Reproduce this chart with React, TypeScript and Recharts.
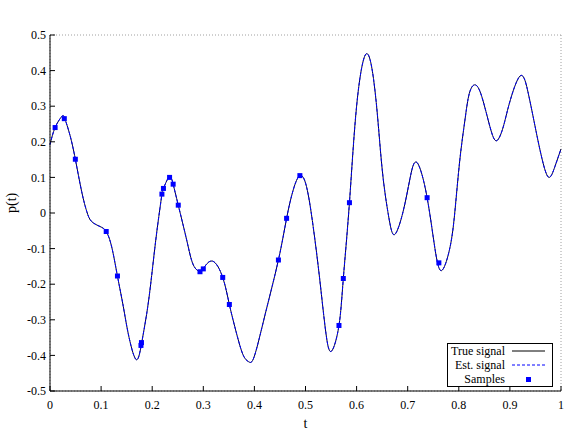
import React from 'react';
import { ComposedChart, Line, Scatter, XAxis, YAxis, CartesianGrid } from 'recharts';

const curveT = [0, 0.01, 0.023, 0.029, 0.039, 0.0496, 0.062, 0.072, 0.0815, 0.098, 0.11, 0.1207, 0.132, 0.1435, 0.153, 0.168, 0.179, 0.189, 0.197, 0.205, 0.212, 0.219, 0.222, 0.233, 0.241, 0.251, 0.2675, 0.2805, 0.2935, 0.3, 0.3177, 0.338, 0.351, 0.365, 0.378, 0.389, 0.4, 0.421, 0.447, 0.463, 0.476, 0.489, 0.502, 0.515, 0.528, 0.54, 0.551, 0.5655, 0.574, 0.586, 0.6, 0.618, 0.633, 0.643, 0.652, 0.664, 0.675, 0.691, 0.7045, 0.718, 0.738, 0.755, 0.768, 0.783, 0.7926, 0.802, 0.812, 0.8206, 0.832, 0.845, 0.861, 0.874, 0.887, 0.899, 0.92, 0.936, 0.952, 0.965, 0.9765, 0.988, 1];
const trueP = [0.192, 0.24, 0.271, 0.265, 0.219, 0.151, 0.06, 0.004, -0.024, -0.038, -0.052, -0.095, -0.177, -0.263, -0.338, -0.411, -0.368, -0.285, -0.2, -0.1, -0.02, 0.053, 0.069, 0.101, 0.081, 0.022, -0.076, -0.146, -0.165, -0.157, -0.135, -0.181, -0.257, -0.338, -0.399, -0.418, -0.402, -0.285, -0.132, -0.015, 0.065, 0.105, 0.074, -0.038, -0.188, -0.338, -0.388, -0.316, -0.184, 0.029, 0.3, 0.446, 0.378, 0.238, 0.097, -0.02, -0.06, 0.004, 0.097, 0.142, 0.043, -0.115, -0.16, -0.095, 0.008, 0.149, 0.261, 0.336, 0.36, 0.327, 0.242, 0.203, 0.242, 0.308, 0.385, 0.336, 0.224, 0.14, 0.1, 0.13, 0.18];
const estP = [0.192, 0.24, 0.271, 0.265, 0.219, 0.151, 0.06, 0.004, -0.024, -0.038, -0.052, -0.095, -0.177, -0.263, -0.338, -0.411, -0.368, -0.285, -0.2, -0.1, -0.02, 0.053, 0.069, 0.101, 0.081, 0.022, -0.076, -0.146, -0.165, -0.157, -0.135, -0.181, -0.257, -0.338, -0.399, -0.418, -0.402, -0.285, -0.132, -0.015, 0.065, 0.105, 0.074, -0.038, -0.188, -0.338, -0.388, -0.316, -0.184, 0.029, 0.3, 0.446, 0.378, 0.238, 0.097, -0.02, -0.06, 0.004, 0.097, 0.142, 0.043, -0.115, -0.16, -0.095, 0.008, 0.149, 0.261, 0.336, 0.36, 0.327, 0.242, 0.203, 0.242, 0.308, 0.385, 0.336, 0.224, 0.14, 0.1, 0.13, 0.18];

const sampleT = [0.01, 0.028, 0.0496, 0.11, 0.132, 0.178, 0.179, 0.219, 0.222, 0.234, 0.241, 0.251, 0.2935, 0.3, 0.338, 0.351, 0.447, 0.463, 0.489, 0.5655, 0.574, 0.586, 0.738, 0.761];
const sampleP = [0.24, 0.265, 0.151, -0.052, -0.177, -0.372, -0.364, 0.053, 0.069, 0.1, 0.081, 0.022, -0.165, -0.157, -0.181, -0.257, -0.132, -0.015, 0.105, -0.316, -0.184, 0.029, 0.043, -0.14];

const xTicks = [0, 0.1, 0.2, 0.3, 0.4, 0.5, 0.6, 0.7, 0.8, 0.9, 1];
const yTicks = [-0.5, -0.4, -0.3, -0.2, -0.1, 0, 0.1, 0.2, 0.3, 0.4, 0.5];
const legendLabels = ['True signal', 'Est. signal', 'Samples'];

const trueData = curveT.map((t, i) => ({ t, p: trueP[i] }));
const estData = curveT.map((t, i) => ({ t, p: estP[i] }));
const sampleData = sampleT.map((t, i) => ({ t, p: sampleP[i] }));

const FONT = '"Liberation Serif", "DejaVu Serif", serif';

const Square = (props: any) => {
  const { cx, cy } = props;
  if (cx == null || cy == null) return null;
  return <rect x={cx - 2.5} y={cy - 2.5} width={5} height={5} fill="#0000ff" />;
};

const LegendBox = () => (
  <svg width={107} height={45} style={{ display: 'block' }}>
    <rect x={0.5} y={0.5} width={105} height={43} fill="#fff" stroke="#000" strokeWidth={1} />
    <text x={58} y={12} textAnchor="end" fontFamily={FONT} fontSize={12} fill="#000">{legendLabels[0]}</text>
    <line x1={65} x2={98} y1={8} y2={8} stroke="#000" strokeWidth={1} />
    <text x={58} y={26} textAnchor="end" fontFamily={FONT} fontSize={12} fill="#000">{legendLabels[1]}</text>
    <line x1={65} x2={98} y1={22} y2={22} stroke="#0000ff" strokeWidth={1} strokeDasharray="3 2" />
    <text x={58} y={40} textAnchor="end" fontFamily={FONT} fontSize={12} fill="#000">{legendLabels[2]}</text>
    <rect x={79} y={34} width={5} height={5} fill="#0000ff" />
  </svg>
);

const fmt = (v: number) => String(v);
const blank = () => '';

export default function App() {
  return (
    <div style={{ position: 'absolute', left: 0, top: 0, width: 581, height: 440, background: '#fff' }}>
      <ComposedChart width={581} height={440} margin={{ top: 35, right: 20, bottom: 0, left: 0 }}>
        <CartesianGrid stroke="#a0a0a0" strokeDasharray="1 2" vertical horizontal />
        <XAxis
          xAxisId="b"
          dataKey="t"
          type="number"
          domain={[0, 1]}
          ticks={xTicks}
          tickFormatter={fmt}
          allowDuplicatedCategory={false}
          height={49}
          tickSize={-5}
          tickMargin={14}
          stroke="#000"
          axisLine={{ stroke: '#000' }}
          tickLine={{ stroke: '#000' }}
          tick={{ fill: '#000', fontSize: 12, fontFamily: FONT }}
          label={{ value: 't', position: 'insideBottom', offset: 12, fill: '#000', fontSize: 14, fontFamily: FONT }}
        />
        <XAxis
          xAxisId="t"
          orientation="top"
          dataKey="t"
          type="number"
          domain={[0, 1]}
          ticks={xTicks}
          tickFormatter={blank}
          allowDuplicatedCategory={false}
          height={0}
          tickSize={-5}
          axisLine={{ stroke: '#000' }}
          tickLine={{ stroke: '#000' }}
        />
        <YAxis
          yAxisId="l"
          dataKey="p"
          type="number"
          domain={[-0.5, 0.5]}
          ticks={yTicks}
          tickFormatter={fmt}
          width={50}
          tickSize={-5}
          tickMargin={9}
          axisLine={{ stroke: '#000' }}
          tickLine={{ stroke: '#000' }}
          tick={{ fill: '#000', fontSize: 12, fontFamily: FONT }}
          label={{ value: 'p(t)', angle: -90, position: 'insideLeft', offset: 11, fill: '#000', fontSize: 14, fontFamily: FONT }}
        />
        <YAxis
          yAxisId="r"
          orientation="right"
          dataKey="p"
          type="number"
          domain={[-0.5, 0.5]}
          ticks={yTicks}
          tickFormatter={blank}
          width={0}
          tickSize={-5}
          axisLine={{ stroke: '#000' }}
          tickLine={{ stroke: '#000' }}
        />
        <Line xAxisId="b" yAxisId="l" data={trueData} dataKey="p" type="natural" stroke="#000033" strokeWidth={1} dot={false} isAnimationActive={false} />
        <Line xAxisId="b" yAxisId="l" data={estData} dataKey="p" type="natural" stroke="#0000ff" strokeWidth={1} strokeDasharray="3 2" dot={false} isAnimationActive={false} />
        <Scatter xAxisId="b" yAxisId="l" data={sampleData} dataKey="p" shape={<Square />} isAnimationActive={false} />
      </ComposedChart>
      <div style={{ position: 'absolute', left: 447, top: 343 }}>
        <LegendBox />
      </div>
    </div>
  );
}
